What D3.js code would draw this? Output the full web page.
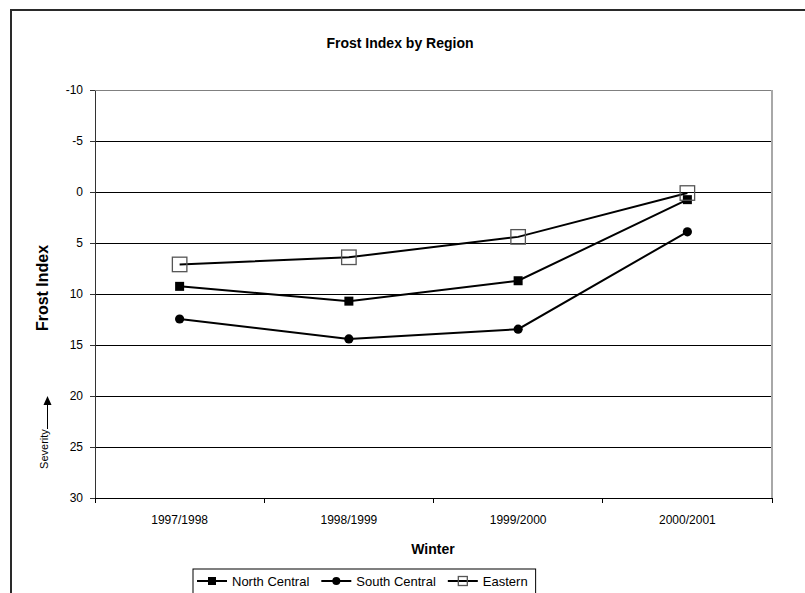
<!DOCTYPE html>
<html>
<head>
<meta charset="utf-8">
<script src="https://cdn.jsdelivr.net/npm/d3@7"></script>
<style>
  body { margin: 0; background: #fff; }
  svg { font-family: Arial, "Liberation Sans", sans-serif; }
</style>
</head>
<body>
<div id="chart"></div>
<script>
// data
var winters = ["1997/1998", "1998/1999", "1999/2000", "2000/2001"];
var northCentral = [9.25, 10.7, 8.7, 0.75];
var southCentral = [12.45, 14.4, 13.45, 3.9];
var eastern = [7.1, 6.4, 4.4, 0.1];
var yTicks = [-10, -5, 0, 5, 10, 15, 20, 25, 30];

var series = [
  {name: "North Central", values: northCentral, marker: "square"},
  {name: "South Central", values: southCentral, marker: "circle"},
  {name: "Eastern", values: eastern, marker: "open"}
];

var width = 805, height = 593;
var plot = {left: 95, right: 772, top: 90, bottom: 498};

var svg = d3.select("#chart").append("svg")
    .attr("width", width)
    .attr("height", height);

// outer chart frame (cropped on the right and bottom)
svg.append("rect")
    .attr("x", 11).attr("y", 10)
    .attr("width", 820).attr("height", 620)
    .attr("fill", "none")
    .attr("stroke", "#2a2a2a")
    .attr("stroke-width", 2);

var x = d3.scaleBand().domain(winters).range([plot.left, plot.right]).padding(0);
var y = d3.scaleLinear().domain([-10, 30]).range([plot.top, plot.bottom]);

// gridlines
svg.append("g").selectAll("line")
    .data(yTicks.slice(1, -1))
    .enter().append("line")
    .attr("x1", plot.left).attr("x2", plot.right)
    .attr("y1", function(d) { return y(d); })
    .attr("y2", function(d) { return y(d); })
    .attr("stroke", "#000")
    .attr("shape-rendering", "crispEdges");

// plot area border top / right
svg.append("line")
    .attr("x1", plot.left).attr("x2", plot.right)
    .attr("y1", plot.top).attr("y2", plot.top)
    .attr("stroke", "#808080").attr("shape-rendering", "crispEdges");
svg.append("line")
    .attr("x1", plot.right).attr("x2", plot.right)
    .attr("y1", plot.top).attr("y2", plot.bottom)
    .attr("stroke", "#a8a8a8").attr("stroke-width", 2).attr("shape-rendering", "crispEdges");

// y axis
var yAxis = svg.append("g")
    .attr("transform", "translate(" + plot.left + ",0)")
    .call(d3.axisLeft(y).tickValues(yTicks).tickSize(5).tickPadding(7).tickSizeOuter(0)
        .tickFormat(function(d) { return String(d); }));
yAxis.select(".domain").attr("stroke", "#333").attr("shape-rendering", "crispEdges");
yAxis.selectAll(".tick line").attr("stroke", "#333").attr("shape-rendering", "crispEdges");
yAxis.selectAll("text").attr("font-size", 12).attr("font-family", "Arial, 'Liberation Sans', sans-serif").attr("fill", "#000");

// x axis, ticks between categories
var xAxis = svg.append("g")
    .attr("transform", "translate(0," + plot.bottom + ")")
    .call(d3.axisBottom(x).tickSize(0).tickPadding(17));
xAxis.select(".domain").attr("stroke", "#000").attr("shape-rendering", "crispEdges");
xAxis.selectAll("text").attr("font-size", 12).attr("font-family", "Arial, 'Liberation Sans', sans-serif").attr("fill", "#000");
var bounds = winters.map(function(d) { return x(d); }).concat([plot.right]);
xAxis.selectAll(".between")
    .data(bounds)
    .enter().append("line")
    .attr("class", "between")
    .attr("x1", function(d) { return d; }).attr("x2", function(d) { return d; })
    .attr("y1", 0).attr("y2", 5)
    .attr("stroke", "#000").attr("shape-rendering", "crispEdges");

// series lines
var line = d3.line()
    .x(function(d, i) { return x(winters[i]) + x.bandwidth() / 2; })
    .y(function(d) { return y(d); });

svg.append("g").selectAll("path")
    .data(series)
    .enter().append("path")
    .attr("d", function(s) { return line(s.values); })
    .attr("fill", "none")
    .attr("stroke", "#000")
    .attr("stroke-width", 2);

function drawMarker(g, type, cx, cy, big) {
  if (type === "square") {
    var s = big ? 9 : 8;
    g.append("rect").attr("x", cx - s / 2).attr("y", cy - s / 2)
        .attr("width", s).attr("height", s).attr("fill", "#000");
  } else if (type === "circle") {
    g.append("circle").attr("cx", cx).attr("cy", cy)
        .attr("r", big ? 4.6 : 4).attr("fill", "#000");
  } else {
    var s2 = big ? 14.5 : 9;
    g.append("rect").attr("x", cx - s2 / 2).attr("y", cy - s2 / 2)
        .attr("width", s2).attr("height", s2)
        .attr("fill", "none").attr("stroke", "#555").attr("stroke-width", 1.3);
  }
}

var markers = svg.append("g");
series.forEach(function(s) {
  s.values.forEach(function(v, i) {
    drawMarker(markers, s.marker, x(winters[i]) + x.bandwidth() / 2, y(v), true);
  });
});

// titles
svg.append("text")
    .attr("x", 400).attr("y", 48)
    .attr("text-anchor", "middle")
    .attr("font-size", 14).attr("font-weight", "bold")
    .text("Frost Index by Region");

svg.append("text")
    .attr("x", 433).attr("y", 554)
    .attr("text-anchor", "middle")
    .attr("font-size", 14).attr("font-weight", "bold")
    .text("Winter");

svg.append("text")
    .attr("transform", "translate(48,288) rotate(-90)")
    .attr("text-anchor", "middle")
    .attr("font-size", 16).attr("font-weight", "bold")
    .text("Frost Index");

// severity arrow
svg.append("text")
    .attr("transform", "translate(48,449) rotate(-90)")
    .attr("text-anchor", "middle")
    .attr("font-size", 11)
    .text("Severity");
svg.append("line")
    .attr("x1", 47.5).attr("x2", 47.5)
    .attr("y1", y(20) + 8).attr("y2", 429)
    .attr("stroke", "#000").attr("stroke-width", 1);
svg.append("path")
    .attr("d", "M47.5," + y(20) + "L43.5," + (y(20) + 9) + "L51.5," + (y(20) + 9) + "Z")
    .attr("fill", "#000");

// legend
var legend = svg.append("g");
var legendBox = legend.append("rect")
    .attr("y", 569).attr("height", 30)
    .attr("fill", "#fff").attr("stroke", "#000");
var lx = 197, ly = 581;
series.forEach(function(s) {
  legend.append("line")
      .attr("x1", lx).attr("x2", lx + 30)
      .attr("y1", ly).attr("y2", ly)
      .attr("stroke", "#000").attr("stroke-width", 2);
  drawMarker(legend, s.marker, lx + 15, ly, false);
  var t = legend.append("text")
      .attr("x", lx + 35).attr("y", ly + 5)
      .attr("font-size", 13)
      .text(s.name);
  lx += 35 + t.node().getComputedTextLength() + 12;
});
legendBox.attr("x", 193).attr("width", lx - 193 - 4);
</script>
</body>
</html>
